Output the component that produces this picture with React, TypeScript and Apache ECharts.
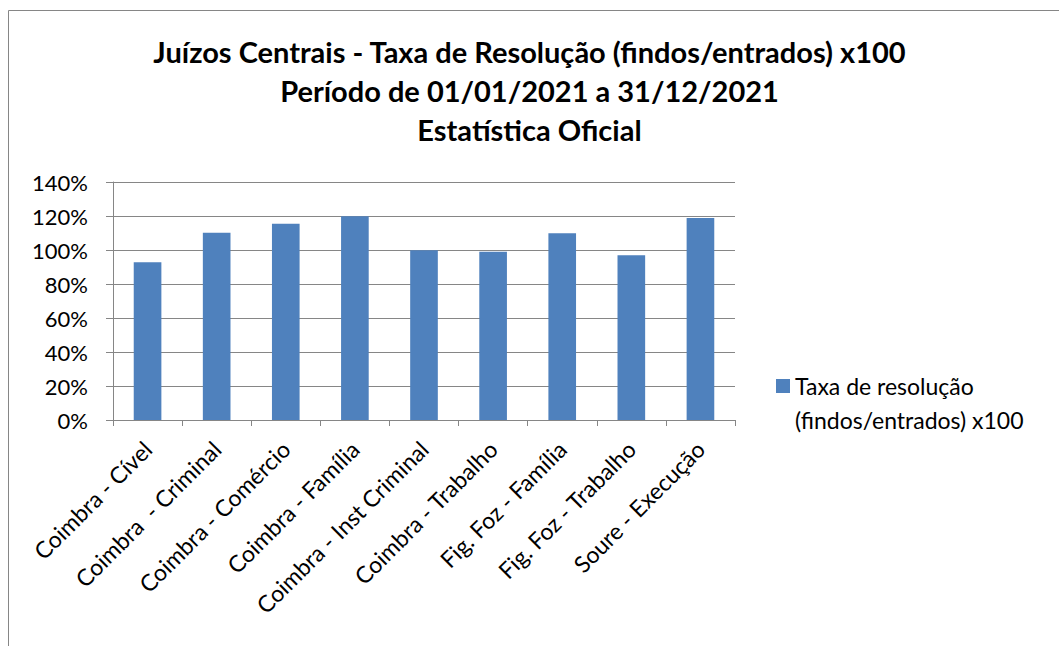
import React, { useEffect, useRef } from "react";
import * as echarts from "echarts";

const titleLines = [
  "Juízos Centrais - Taxa de Resolução (findos/entrados) x100",
  "Período de 01/01/2021 a 31/12/2021",
  "Estatística Oficial",
];
const categories = [
  "Coimbra - Cível",
  "Coimbra  - Criminal",
  "Coimbra - Comércio",
  "Coimbra - Família",
  "Coimbra - Inst Criminal",
  "Coimbra - Trabalho",
  "Fig. Foz - Família",
  "Fig. Foz - Trabalho",
  "Soure - Execução",
];
const seriesName = "Taxa de resolução (findos/entrados) x100";
const legendLines = ["Taxa de resolução", "(findos/entrados) x100"];
const values = [92.8, 110.2, 115.5, 119.8, 99.8, 99.0, 109.8, 96.9, 118.8];

const FONT = "Lato, 'Open Sans', sans-serif";
const GREY = "#868686";

export default function App() {
  const ref = useRef<HTMLDivElement>(null);
  useEffect(() => {
    document.body.style.margin = "0";
    const chart = echarts.init(ref.current!, null, { renderer: "svg" });
    chart.setOption({
      animation: false,
      backgroundColor: "#ffffff",
      textStyle: { fontFamily: FONT },
      title: {
        text: titleLines.join("\n"),
        left: "center",
        top: 32,
        padding: 0,
        textStyle: {
          fontFamily: FONT,
          fontWeight: "bold",
          fontSize: 29,
          lineHeight: 39,
          color: "#000",
        },
      },
      graphic: [
        {
          type: "rect",
          shape: { x: 8.5, y: 10.5, width: 1200, height: 800 },
          style: { fill: "none", stroke: GREY, lineWidth: 1 },
          silent: true,
        },
      ],
      legend: {
        orient: "vertical",
        left: 776,
        top: 369,
        padding: 0,
        itemWidth: 14,
        itemHeight: 48,
        itemGap: 0,
        icon: "path://M0,0L14,0L14,14L0,14Z M0,48L0.001,48",
        formatter: () => legendLines.join("\n"),
        textStyle: {
          fontFamily: FONT,
          fontSize: 23,
          lineHeight: 34,
          color: "#000",
        },
        data: [seriesName],
      },
      grid: { left: 113, right: 324, top: 182, bottom: 226, containLabel: false },
      xAxis: {
        type: "category",
        data: categories,
        axisLine: { lineStyle: { color: GREY, width: 1 } },
        axisTick: { show: true, length: 6, alignWithLabel: false, lineStyle: { color: GREY } },
        axisLabel: {
          rotate: 45,
          margin: 25,
          interval: 0,
          fontFamily: FONT,
          fontSize: 23,
          color: "#000",
        },
      },
      yAxis: {
        type: "value",
        min: 0,
        max: 140,
        interval: 20,
        axisLine: { show: true, lineStyle: { color: GREY, width: 1 } },
        axisTick: { show: true, length: 7, lineStyle: { color: GREY } },
        splitLine: { show: true, lineStyle: { color: GREY, width: 1 } },
        axisLabel: {
          formatter: "{value}%",
          margin: 25,
          fontFamily: FONT,
          fontSize: 22,
          color: "#000",
        },
      },
      series: [
        {
          name: seriesName,
          type: "bar",
          data: values,
          barCategoryGap: "60%",
          itemStyle: { color: "#4F81BD" },
        },
      ],
    });
    return () => chart.dispose();
  }, []);
  return <div ref={ref} style={{ width: 1059, height: 646 }} />;
}
